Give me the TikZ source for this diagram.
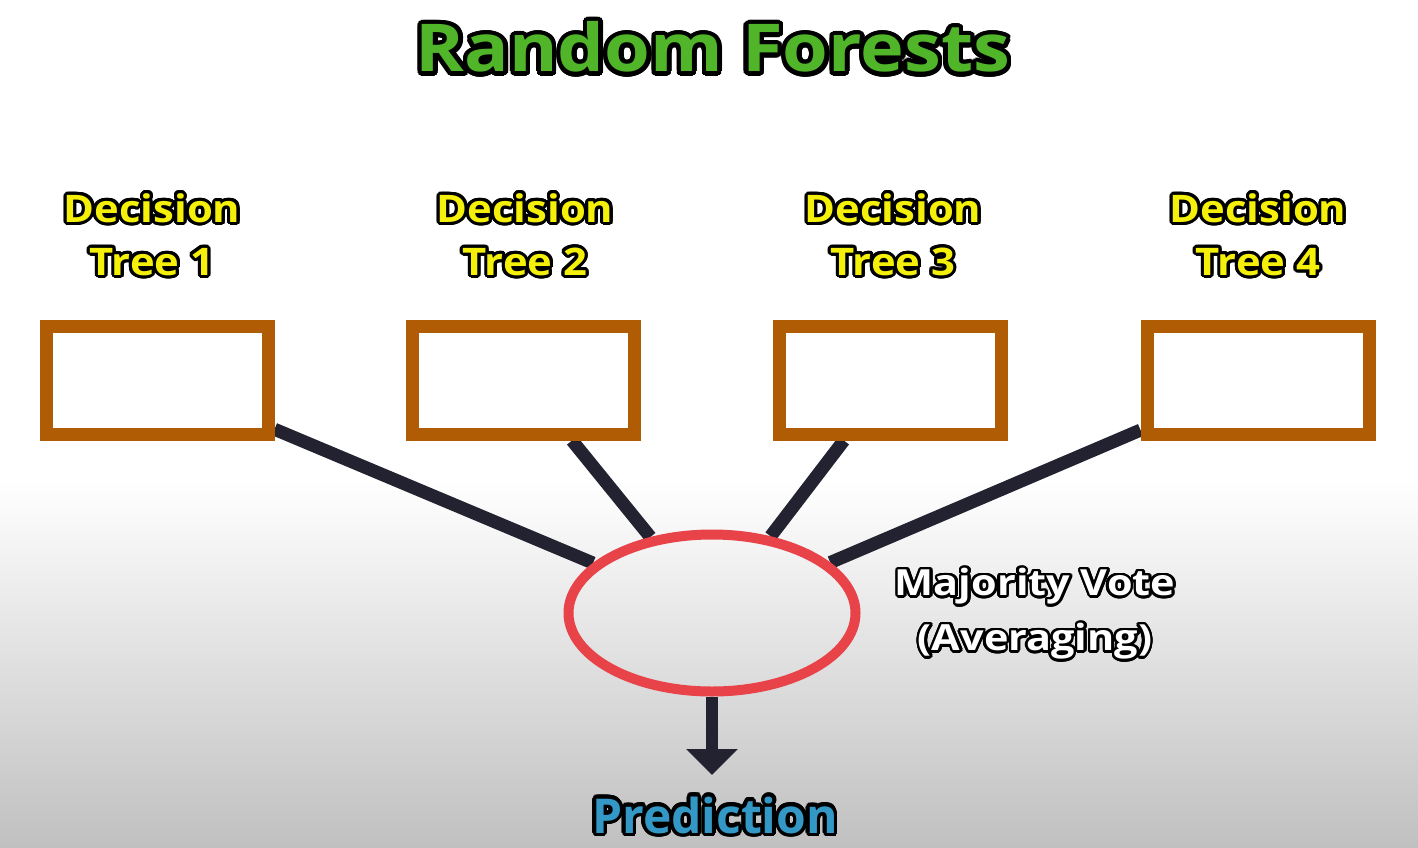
\documentclass[tikz,border=0pt]{standalone}
\usepackage{fontspec}
\setmainfont{Open Sans}
\newfontfamily\titlefont{Open Sans}[FakeStretch=1.12]
\newfontfamily\labelfont{Open Sans}[FakeStretch=1.1]
\newfontfamily\votefont{Open Sans}[FakeStretch=1.15]
\usepackage{contour}
\contournumber{24}
\usetikzlibrary{arrows.meta,shapes.geometric,backgrounds}

\definecolor{titlegreen}{RGB}{80,181,40}
\definecolor{treeyellow}{RGB}{245,240,10}
\definecolor{treeorange}{RGB}{176,92,4}
\definecolor{linkdark}{RGB}{34,34,48}
\definecolor{votered}{RGB}{233,67,74}
\definecolor{predblue}{RGB}{52,152,198}
\definecolor{bggray}{RGB}{192,192,192}

\tikzset{
    treebox/.style={draw=treeorange, line width=13pt, fill=white, minimum width=222pt, minimum height=108pt, inner sep=0pt},
    treelabel/.style={text=treeyellow, align=center, font=\labelfont\bfseries\fontsize{38}{53}\selectfont\contourlength{3pt}},
    vote/.style={ellipse, draw=votered, line width=10pt, minimum width=287pt, minimum height=157pt, inner sep=0pt},
    link/.style={line width=13pt, draw=linkdark},
}

\begin{document}
\begin{tikzpicture}[x=1pt, y=-1pt]
        \useasboundingbox (0,0) rectangle (1418,848);

        % Title
        \node[text=titlegreen, anchor=base, font=\titlefont\bfseries\fontsize{66}{80}\selectfont\contourlength{4.5pt}] (title) at (713,72) {\contour{black}{Random Forests}};

        % Trees
        \node[treebox] (tree1) at (157,380) {};
        \node[treebox] (tree2) at (523,380) {};
        \node[treebox] (tree3) at (890,380) {};
        \node[treebox] (tree4) at (1258,380) {};
        \node[treelabel] (label1) at (152,236) {\contour{black}{Decision}\\\contour{black}{Tree 1}};
        \node[treelabel] (label2) at (525,236) {\contour{black}{Decision}\\\contour{black}{Tree 2}};
        \node[treelabel] (label3) at (893,236) {\contour{black}{Decision}\\\contour{black}{Tree 3}};
        \node[treelabel] (label4) at (1258,236) {\contour{black}{Decision}\\\contour{black}{Tree 4}};

        % Vote
        \node[vote] (vote) at (712,613) {};
        \node[text=white, align=center, font=\votefont\bfseries\fontsize{36}{55}\selectfont\contourlength{2.5pt}] (votetext) at (1035,615) {\contour{black}{Majority Vote}\\\contour{black}{(Averaging)}};

        % Prediction
        \coordinate (tip) at (712,775);
        \node[text=predblue, anchor=base, font=\bfseries\fontsize{48}{60}\selectfont\contourlength{3.5pt}] (pred) at (715,833) {\contour{black}{Prediction}};

        \begin{pgfonlayer}{background}
            \fill[white] (0,0) rectangle (1418,480);
            \shade[top color=white, bottom color=bggray] (0,480) rectangle (1418,848);
            \draw[link] (tree1) -- (vote);
            \draw[link] (tree2) -- (vote);
            \draw[link] (tree3) -- (vote);
            \draw[link] (tree4) -- (vote);
        \end{pgfonlayer}
        \draw[link, line width=12pt, -{Triangle[width=50pt, length=26pt]}] (vote.south) -- (tip);
\end{tikzpicture}
\end{document}
